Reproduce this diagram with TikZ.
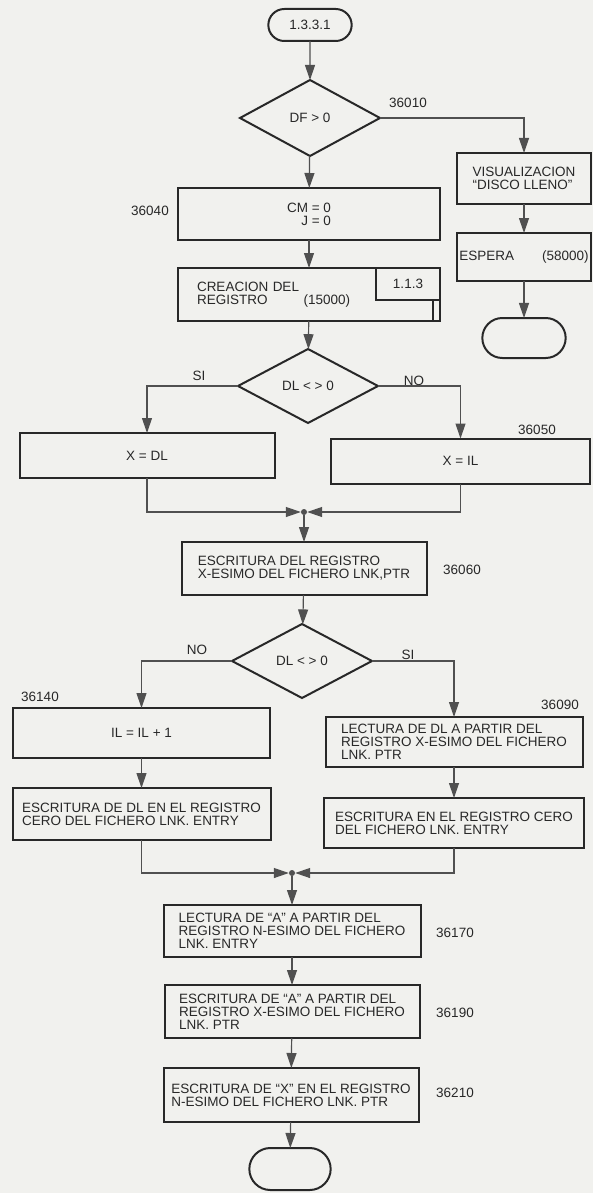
\documentclass[tikz,border=0pt]{standalone}
\usepackage{fontspec}
\setmainfont{Liberation Sans}
\usepackage{tikz}
\usetikzlibrary{arrows.meta,shapes.geometric,shapes.misc}
\definecolor{paper}{RGB}{241,241,238}
\definecolor{ink}{RGB}{40,40,40}
\definecolor{wire}{RGB}{80,80,80}

\begin{document}
\begin{tikzpicture}[x=1pt, y=-1pt,
  every node/.style={font=\fontsize{13.5}{13}\selectfont, text=ink},
  box/.style={draw=ink, line width=2pt, outer sep=0pt, inner sep=0pt, align=left},
  term/.style={rounded rectangle, draw=ink, line width=2pt, outer sep=0pt, minimum width=90pt, minimum height=32pt},
  cond/.style={diamond, draw=ink, line width=2pt, outer sep=0pt, inner sep=0pt, minimum width=140pt, minimum height=76pt},
  lbl/.style={inner sep=1pt},
  dot/.style={circle, fill=wire, inner sep=0pt, minimum size=6pt},
  arr/.style={-{Triangle[length=15pt,width=10pt]}, draw=wire, line width=1.2pt}]
  \useasboundingbox (0,0) rectangle (593,1193);
  \fill[paper] (0,0) rectangle (593,1193);
  % top part
  \node[term] (start) at (310,25) {1.3.3.1};
  \node[cond] (cond1) at (310,118) {DF > 0};
  \node[lbl] (n36010) at (408,103) {36010};
  \node[box, minimum width=134pt, minimum height=51pt] (visu) at (524,178.5) {VISUALIZACION\\“DISCO LLENO”};
  \node[box, minimum width=134pt, minimum height=48pt] (espera) at (524,257) {ESPERA\hspace{28pt}(58000)};
  \node[term, minimum height=40pt] (fin1) at (524,338) {};
  \node[box, align=right, minimum width=262pt, minimum height=52pt] (init) at (309,214) {CM = 0\\J = 0};
  \node[lbl] (n36040) at (150,211) {36040};
  \node[box, text width=224pt, minimum width=262pt, minimum height=53pt] (creac) at (309,294.5) {CREACION DEL\\REGISTRO\hspace{36pt}(15000)};
  \draw[ink, line width=2pt] ([xshift=-64pt]creac.north east) |- ([yshift=-32pt]creac.north east);
  \draw[ink, line width=2pt] ([xshift=-7pt,yshift=-32pt]creac.north east) -- ([xshift=-7pt]creac.south east);
  \node (sub) at ([xshift=-32pt,yshift=-16pt]creac.north east) {1.1.3};
  % first DL test
  \node[cond, minimum height=74pt] (cond2) at (308,386) {DL < > 0};
  \node[lbl] (si1) at (199,376) {SI};
  \node[lbl] (no1) at (414,381) {NO};
  \node[box, minimum width=255pt, minimum height=45pt] (xdl) at (147,455.5) {X = DL};
  \node[box, minimum width=259pt, minimum height=45pt] (xil) at (460.5,461) {X = IL};
  \node[lbl] (n36050) at (537,430) {36050};
  \node[dot] (join1) at (304,512) {};
  \node[box, minimum width=245pt, minimum height=53pt] (escx) at (304,568.5) {ESCRITURA DEL REGISTRO\\X-ESIMO DEL FICHERO LNK,PTR};
  \node[lbl] (n36060) at (462,570) {36060};
  % second DL test
  \node[cond, minimum height=74pt] (cond3) at (302,661) {DL < > 0};
  \node[lbl] (no2) at (197,650) {NO};
  \node[lbl] (si2) at (408,655) {SI};
  \node[lbl] (n36140) at (40,697) {36140};
  \node[box, minimum width=257pt, minimum height=50pt] (incil) at (141.5,733) {IL = IL + 1};
  \node[box, minimum width=258pt, minimum height=52pt] (escdl) at (141.5,814) {ESCRITURA DE DL EN EL REGISTRO\\CERO DEL FICHERO LNK. ENTRY};
  \node[lbl] (n36090) at (560,705) {36090};
  \node[box, minimum width=257pt, minimum height=50pt] (lecdl) at (454,742) {LECTURA DE DL A PARTIR DEL\\REGISTRO X-ESIMO DEL FICHERO\\LNK. PTR};
  \node[box, minimum width=260pt, minimum height=50pt] (esccero) at (454,823) {ESCRITURA EN EL REGISTRO CERO\\DEL FICHERO LNK. ENTRY};
  % bottom part
  \node[dot] (join2) at (292,873) {};
  \node[box, minimum width=257pt, minimum height=52pt] (leca) at (292,931) {LECTURA DE “A” A PARTIR DEL\\REGISTRO N-ESIMO DEL FICHERO\\LNK. ENTRY};
  \node[lbl] (n36170) at (455,933) {36170};
  \node[box, minimum width=255pt, minimum height=53pt] (esca) at (292,1011.5) {ESCRITURA DE “A” A PARTIR DEL\\REGISTRO X-ESIMO DEL FICHERO\\LNK. PTR};
  \node[lbl] (n36190) at (455,1013) {36190};
  \node[box, minimum width=255pt, minimum height=54pt] (escxn) at (291,1095) {ESCRITURA DE “X” EN EL REGISTRO\\N-ESIMO DEL FICHERO LNK. PTR};
  \node[lbl] (n36210) at (455,1093) {36210};
  \node[term, minimum width=88pt, minimum height=42pt] (fin) at (290,1169) {};
  % connectors
  \draw[arr] (start) -- (cond1);
  \draw[arr] (cond1) -- (init);
  \draw[arr] (cond1.east) -| (visu.north);
  \draw[arr] (visu) -- (espera);
  \draw[arr] (espera) -- (fin1);
  \draw[arr] (init) -- (creac);
  \draw[arr] (creac) -- (cond2);
  \draw[arr] (cond2.west) -| (xdl.north);
  \draw[arr] (cond2.east) -| (xil.north);
  \draw[arr] (xdl.south) |- (join1);
  \draw[arr] (xil.south) |- (join1);
  \draw[arr] (join1) -- (escx);
  \draw[arr] (escx) -- (cond3);
  \draw[arr] (cond3.west) -| (incil.north);
  \draw[arr] (cond3.east) -| (lecdl.north);
  \draw[arr] (incil) -- (escdl);
  \draw[arr] (lecdl) -- (esccero);
  \draw[arr] (escdl.south) |- (join2);
  \draw[arr] (esccero.south) |- (join2);
  \draw[arr] (join2) -- (leca);
  \draw[arr] (leca) -- (esca);
  \draw[arr] (esca) -- (escxn);
  \draw[arr] (escxn) -- (fin);
\end{tikzpicture}
\end{document}
